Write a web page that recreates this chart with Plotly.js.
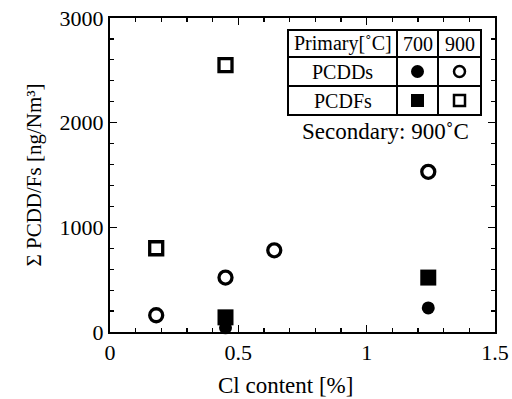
<!DOCTYPE html>
<html>
<head>
<meta charset="utf-8">
<script src="https://cdn.plot.ly/plotly-3.0.1.min.js"></script>
<style>html,body{margin:0;padding:0;background:#fff;}#chart{width:512px;height:399px;}</style>
</head>
<body>
<div id="chart"></div>
<script>
// Data
const clPcdf900 = [0.18, 0.45];
const pcdf900 = [800, 2550];
const clPcdd900 = [0.18, 0.45, 0.64, 1.24];
const pcdd900 = [160, 520, 780, 1530];
const clPcdf700 = [0.45, 1.24];
const pcdf700 = [140, 520];
const clPcdd700 = [0.45, 1.24];
const pcdd700 = [40, 230];

const xTickVals = [0, 0.5, 1, 1.5];
const xTickText = ['0', '0.5', '1', '1.5'];
const yTickVals = [0, 1000, 2000, 3000];
const yTickText = ['0', '1000', '2000', '3000'];

const tableHeader = ['Primary[˚C]', '700', '900'];
const tableRows = ['PCDDs', 'PCDFs'];
const secondaryNote = 'Secondary: 900˚C';
const xTitle = 'Cl content [%]';
const yTitle = 'Σ PCDD/Fs [ng/Nm³]';

const FONT = 'Liberation Serif, Times New Roman, serif';

// plot area geometry (pixels)
const L = 110, R = 17, T = 18, B = 67, W = 512, H = 399;
const pw = W - L - R, ph = H - T - B;
const px = v => (v - L) / pw;
const py = v => (H - B - v) / ph;

const traces = [
  {x: clPcdf900, y: pcdf900, mode: 'markers', type: 'scatter', cliponaxis: false,
   marker: {symbol: 'square-open', size: 13, color: '#000', line: {width: 3.3, color: '#000'}}},
  {x: clPcdd900, y: pcdd900, mode: 'markers', type: 'scatter', cliponaxis: false,
   marker: {symbol: 'circle-open', size: 13, color: '#000', line: {width: 3.3, color: '#000'}}},
  {x: clPcdf700, y: pcdf700, mode: 'markers', type: 'scatter', cliponaxis: false,
   marker: {symbol: 'square', size: 16, color: '#000', line: {width: 0}}},
  {x: clPcdd700, y: pcdd700, mode: 'markers', type: 'scatter', cliponaxis: false,
   marker: {symbol: 'circle', size: 13, color: '#000', line: {width: 0}}}
];

// legend table (layout decoration)
const tx0 = 288, tx1 = 481, ty0 = 30, ty1 = 115;
const rowY = [57, 86];
const colX = [397, 438];
const shapes = [];
const lineStyle = {color: '#000', width: 2};
shapes.push({type: 'rect', xref: 'paper', yref: 'paper', x0: px(tx0), x1: px(tx1), y0: py(ty0), y1: py(ty1), line: lineStyle, fillcolor: '#fff', layer: 'above'});
rowY.forEach(r => shapes.push({type: 'line', xref: 'paper', yref: 'paper', x0: px(tx0), x1: px(tx1), y0: py(r), y1: py(r), line: lineStyle}));
colX.forEach(c => shapes.push({type: 'line', xref: 'paper', yref: 'paper', x0: px(c), x1: px(c), y0: py(ty0), y1: py(ty1), line: lineStyle}));

const c700 = (colX[0] + colX[1]) / 2, c900 = (colX[1] + tx1) / 2;
const rDD = (rowY[0] + rowY[1]) / 2, rDF = (rowY[1] + ty1) / 2;
function pixShape(type, cx, cy, half, filled) {
  return {type: type, xref: 'paper', yref: 'paper', xsizemode: 'pixel', ysizemode: 'pixel',
    xanchor: px(cx), yanchor: py(cy), x0: -half, x1: half, y0: -half, y1: half,
    fillcolor: filled ? '#000' : 'rgba(0,0,0,0)', line: {color: '#000', width: filled ? 0 : 2.5}, layer: 'above'};
}
shapes.push(pixShape('circle', c700, rDD, 6.5, true));
shapes.push(pixShape('circle', c900, rDD, 5.5, false));
shapes.push(pixShape('rect', c700, rDF, 6.5, true));
shapes.push(pixShape('rect', c900, rDF, 5.5, false));

const annFont = {family: FONT, size: 20, color: '#000'};
const ann = (text, cx, cy) => ({text: text, xref: 'paper', yref: 'paper', x: px(cx), y: py(cy),
  xanchor: 'center', yanchor: 'middle', showarrow: false, font: annFont});
const annotations = [
  ann(tableHeader[0], (tx0 + colX[0]) / 2, (ty0 + rowY[0]) / 2),
  ann(tableHeader[1], c700, (ty0 + rowY[0]) / 2),
  ann(tableHeader[2], c900, (ty0 + rowY[0]) / 2),
  ann(tableRows[0], (tx0 + colX[0]) / 2, rDD),
  ann(tableRows[1], (tx0 + colX[0]) / 2, rDF),
  Object.assign(ann(secondaryNote, 385, 131), {font: {family: FONT, size: 23, color: '#000'}}),
  Object.assign(ann(xTitle, 285, 385), {font: {family: FONT, size: 23, color: '#000'}})
];

const axisCommon = {
  showline: true, linecolor: '#000', linewidth: 2, mirror: 'allticks',
  ticks: 'inside', ticklen: 7, tickwidth: 1.5, tickcolor: '#000',
  showgrid: false, zeroline: false,
  tickfont: {family: FONT, size: 22, color: '#000'}
};

const layout = {
  width: W, height: H,
  margin: {l: L, r: R, t: T, b: B},
  paper_bgcolor: '#fff', plot_bgcolor: '#fff',
  showlegend: false,
  font: {family: FONT, color: '#000'},
  xaxis: Object.assign({}, axisCommon, {
    range: [0, 1.5], tickmode: 'array', tickvals: xTickVals, ticktext: xTickText,
    minor: {dtick: 0.1, ticks: 'inside', ticklen: 4, tickwidth: 1.2, tickcolor: '#000'}
  }),
  yaxis: Object.assign({}, axisCommon, {
    range: [0, 3000], tickmode: 'array', tickvals: yTickVals, ticktext: yTickText,
    minor: {dtick: 200, ticks: 'inside', ticklen: 4, tickwidth: 1.2, tickcolor: '#000'},
    title: {text: yTitle, font: {family: FONT, size: 21, color: '#000'}, standoff: 12}
  }),
  shapes: shapes,
  annotations: annotations
};

Plotly.newPlot('chart', traces, layout, {staticPlot: true, displayModeBar: false});
</script>
</body>
</html>
